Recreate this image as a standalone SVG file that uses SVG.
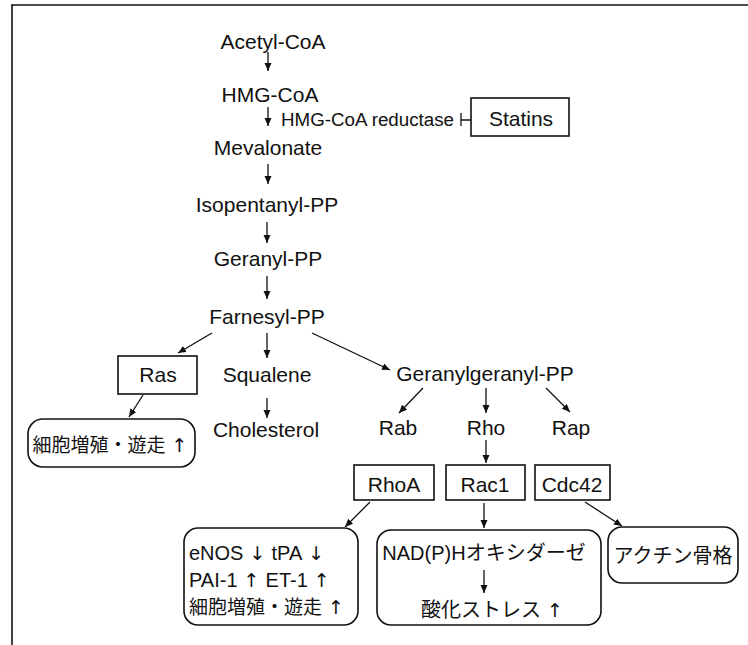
<svg xmlns="http://www.w3.org/2000/svg" width="748" height="645" viewBox="0 0 748 645">
<defs>
<marker id="ah" markerUnits="userSpaceOnUse" markerWidth="9" markerHeight="8" refX="8" refY="3.5" orient="auto">
<path d="M0,0 L8,3.5 L0,7 z" fill="#111"/>
</marker>
<style>
.t{font-family:"Liberation Sans",Arial,"Noto Sans CJK JP",sans-serif;font-size:21px;fill:#111;text-anchor:middle}
.j{font-family:"Liberation Sans","Noto Sans CJK JP",sans-serif;font-size:20px;fill:#111}
.k{font-size:19px}
.s{font-family:"Liberation Sans",Arial,sans-serif;font-size:18px;fill:#111}
.a{font-family:"DejaVu Sans",sans-serif;font-size:19px}
.box{fill:#fff;stroke:#111;stroke-width:1.6}
.c line{stroke:#111;stroke-width:1.3;marker-end:url(#ah)}
</style>
</defs>
<rect width="748" height="645" fill="#fff"/>
<g id="frame" stroke="#111" stroke-width="1.6" fill="none">
<line x1="11" y1="5" x2="748" y2="5"/>
<line x1="12" y1="5" x2="12" y2="645"/>
</g>
<g id="acetylcoa"><text class="t" x="273" y="49">Acetyl-CoA</text></g>
<g id="hmgcoa"><text class="t" x="270" y="102">HMG-CoA</text></g>
<g id="reductase"><text class="s" x="281" y="126" textLength="173" lengthAdjust="spacingAndGlyphs">HMG-CoA reductase</text></g>
<g id="statins"><rect class="box" x="471" y="98" width="98" height="38"/><text class="t" x="521" y="126">Statins</text></g>
<g id="mevalonate"><text class="t" x="268" y="155">Mevalonate</text></g>
<g id="isopentanyl"><text class="t" x="267" y="212">Isopentanyl-PP</text></g>
<g id="geranyl"><text class="t" x="268" y="266">Geranyl-PP</text></g>
<g id="farnesyl"><text class="t" x="267" y="324">Farnesyl-PP</text></g>
<g id="ras"><rect class="box" x="118" y="356" width="79" height="38"/><text class="t" x="158" y="382">Ras</text></g>
<g id="ras-effect"><rect class="box" x="28" y="419" width="167" height="48" rx="15"/><text class="j k" x="110" y="452" text-anchor="middle">細胞増殖・遊走<tspan class="a"> ↑</tspan></text></g>
<g id="squalene"><text class="t" x="267" y="382">Squalene</text></g>
<g id="cholesterol"><text class="t" x="266" y="437">Cholesterol</text></g>
<g id="ggpp"><text class="t" x="485" y="381">Geranylgeranyl-PP</text></g>
<g id="rab"><text class="t" x="398" y="435">Rab</text></g>
<g id="rho"><text class="t" x="486" y="435">Rho</text></g>
<g id="rap"><text class="t" x="571" y="435">Rap</text></g>
<g id="rhoa"><rect class="box" x="354" y="465" width="80" height="35"/><text class="t" x="394" y="492">RhoA</text></g>
<g id="rac1"><rect class="box" x="446" y="465" width="79" height="35"/><text class="t" x="485" y="492">Rac1</text></g>
<g id="cdc42"><rect class="box" x="535" y="465" width="75" height="35"/><text class="t" x="572" y="492">Cdc42</text></g>
<g id="rhoa-effect"><rect class="box" x="184" y="528" width="174" height="97" rx="14"/>
<text class="j" x="189" y="560">eNOS<tspan class="a"> ↓ </tspan>tPA<tspan class="a"> ↓</tspan></text>
<text class="j" x="189" y="587">PAI-1<tspan class="a"> ↑ </tspan>ET-1<tspan class="a"> ↑</tspan></text>
<text class="j k" x="189" y="614">細胞増殖・遊走<tspan class="a"> ↑</tspan></text></g>
<g id="nadph"><rect class="box" x="377" y="530" width="224" height="95" rx="14"/>
<text class="j" x="484" y="560" text-anchor="middle">NAD(P)Hオキシダーゼ</text>
<line x1="484" y1="570" x2="484" y2="593" stroke="#111" stroke-width="1.3" marker-end="url(#ah)"/>
<text class="j" x="492" y="617" text-anchor="middle">酸化ストレス<tspan class="a"> ↑</tspan></text></g>
<g id="actin"><rect class="box" x="608" y="527" width="130" height="56" rx="14"/><text class="j" x="673" y="563" text-anchor="middle">アクチン骨格</text></g>
<g id="connectors" class="c">
<line x1="268" y1="52" x2="268" y2="71"/>
<line x1="268" y1="107" x2="268" y2="126"/>
<line x1="268" y1="164" x2="268" y2="184"/>
<line x1="267" y1="222" x2="267" y2="243"/>
<line x1="267" y1="276" x2="267" y2="299"/>
<line x1="212" y1="333" x2="178" y2="353"/>
<line x1="267" y1="333" x2="267" y2="358"/>
<line x1="312" y1="333" x2="390" y2="370"/>
<line x1="267" y1="398" x2="267" y2="418"/>
<line x1="143" y1="395" x2="129" y2="417"/>
<line x1="423" y1="388" x2="399" y2="413"/>
<line x1="486" y1="388" x2="486" y2="413"/>
<line x1="546" y1="388" x2="570" y2="412"/>
<line x1="486" y1="440" x2="486" y2="463"/>
<line x1="370" y1="502" x2="345" y2="527"/>
<line x1="484" y1="503" x2="484" y2="528"/>
<line x1="585" y1="502" x2="622" y2="526"/>
<path d="M461,113 V126 M461,120 H471" stroke="#111" stroke-width="1.3" fill="none"/>
</g>
</svg>
